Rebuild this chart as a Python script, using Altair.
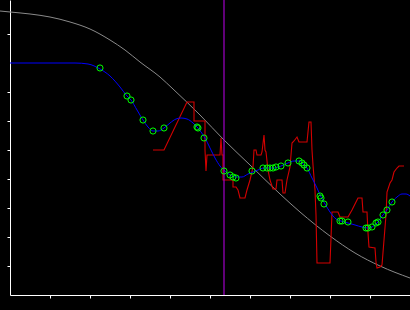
import altair as alt
import pandas as pd

# Grey reference curve
grey_x = [-0.25, 0.0, 0.5, 1.0, 1.5, 2.0, 2.5, 2.875, 3.25, 3.75, 4.075, 4.75, 5.35, 6.0, 6.75, 7.25, 8.0, 8.625, 9.25, 10.0]
grey_y = [9.793, 9.759, 9.690, 9.586, 9.414, 9.172, 8.793, 8.448, 8.034, 7.517, 7.103, 6.207, 5.345, 4.483, 3.483, 2.862, 2.034, 1.448, 1.0, 0.586]

# Blue smooth curve
blue_x = [0.0, 1.625, 1.95, 2.25, 2.5, 2.75, 2.925, 3.025, 3.175, 3.325, 3.45, 3.575, 3.7, 3.85, 4.0,
          4.15, 4.275, 4.425, 4.575, 4.675, 4.775, 4.875, 5.0, 5.125, 5.25, 5.375, 5.5, 5.65, 5.8, 5.95,
          6.075, 6.2, 6.35, 6.6, 6.775, 6.95, 7.1, 7.225, 7.3, 7.425, 7.55, 7.675, 7.775, 7.875, 8.0,
          8.15, 8.275, 8.45, 8.625, 8.8, 8.95, 9.05, 9.175, 9.325, 9.425, 9.55, 9.675, 9.8, 9.9, 10.0]
blue_y = [8.0, 8.0, 7.966, 7.793, 7.552, 7.172, 6.862, 6.724, 6.379, 6.034, 5.793, 5.655, 5.655, 5.759, 5.931,
          6.069, 6.103, 6.069, 5.931, 5.793, 5.621, 5.414, 5.069, 4.724, 4.448, 4.276, 4.138, 4.069, 4.069, 4.172,
          4.241, 4.310, 4.379, 4.379, 4.448, 4.552, 4.621, 4.621, 4.552, 4.379, 4.034, 3.690, 3.379, 3.138, 2.862,
          2.621, 2.552, 2.483, 2.414, 2.345, 2.310, 2.345, 2.483, 2.759, 2.931, 3.207, 3.379, 3.483, 3.483, 3.414]

# Red observed series
red_x = [3.575, 3.85, 4.425, 4.6, 4.6, 4.875, 4.875, 4.9, 4.925, 5.25, 5.275, 5.3, 5.325, 5.325, 5.575,
         5.575, 5.65, 5.7, 5.75, 5.875, 5.925, 6.0, 6.075, 6.1, 6.15, 6.175, 6.275, 6.3, 6.35, 6.375,
         6.4, 6.45, 6.5, 6.575, 6.65, 6.675, 6.8, 6.825, 6.875, 6.925, 7.0, 7.05, 7.1, 7.175, 7.225,
         7.425, 7.475, 7.525, 7.55, 7.575, 7.625, 7.65, 7.675, 8.0, 8.025, 8.05, 8.2, 8.25, 8.45, 8.55,
         8.7, 8.8, 8.825, 8.925, 8.95, 8.975, 9.125, 9.15, 9.175, 9.25, 9.3, 9.35, 9.4, 9.425, 9.5,
         9.55, 9.6, 9.675, 9.725, 9.85]
red_y = [5.0, 5.0, 6.655, 6.655, 6.0, 6.0, 5.0, 4.276, 4.828, 4.828, 5.414, 4.828, 4.828, 3.966, 3.966,
         3.724, 3.724, 3.621, 3.345, 3.345, 3.621, 3.966, 4.414, 5.0, 5.0, 4.828, 4.828, 4.931, 5.517, 5.0,
         4.931, 4.310, 3.966, 3.655, 3.655, 3.966, 3.966, 3.517, 3.517, 3.966, 4.414, 5.241, 5.310, 5.448, 5.276,
         5.276, 5.966, 5.966, 5.0, 4.483, 3.621, 2.759, 1.103, 1.103, 1.966, 2.862, 2.862, 2.690, 2.690, 2.931,
         3.345, 3.345, 2.862, 2.862, 2.138, 1.655, 1.621, 1.138, 0.931, 0.966, 1.034, 1.897, 2.759, 3.552, 3.862,
         3.966, 4.241, 4.379, 4.448, 4.448]

# Green sample points
pt_x = [2.25, 2.925, 3.025, 3.325, 3.575, 3.85, 4.675, 4.7, 4.85, 5.35, 5.5, 5.575, 5.65, 6.05, 6.325,
        6.425, 6.5, 6.575, 6.65, 6.775, 6.95, 7.225, 7.3, 7.35, 7.425, 7.75, 7.775, 7.85, 8.25, 8.3,
        8.45, 8.9, 8.95, 9.05, 9.15, 9.2, 9.325, 9.425, 9.55]
pt_y = [7.828, 6.862, 6.724, 6.034, 5.655, 5.759, 5.793, 5.759, 5.414, 4.276, 4.138, 4.069, 4.034, 4.276, 4.379,
        4.379, 4.379, 4.379, 4.414, 4.448, 4.552, 4.621, 4.552, 4.483, 4.379, 3.414, 3.345, 3.138, 2.552, 2.552,
        2.517, 2.310, 2.310, 2.345, 2.483, 2.517, 2.759, 2.931, 3.207]

# Vertical marker
marker_x = [5.35]

x_ticks = [1, 2, 3, 4, 5, 6, 7, 8, 9]
y_ticks = [1, 2, 3, 4, 5, 6, 7, 9]

xs = alt.Scale(domain=[0, 10], nice=False, zero=False)
ys = alt.Scale(domain=[0, 10.1724], nice=False, zero=False)

x_axis = alt.Axis(labels=False, title=None, grid=False, values=x_ticks, tickSize=3,
                  domainColor="white", tickColor="white", domainWidth=1, tickWidth=1)
y_axis = alt.Axis(labels=False, title=None, grid=False, values=y_ticks, tickSize=3,
                  domainColor="white", tickColor="white", domainWidth=1, tickWidth=1)

grey_df = pd.DataFrame({"x": grey_x, "y": grey_y})
blue_df = pd.DataFrame({"x": blue_x, "y": blue_y, "o": list(range(len(blue_x)))})
red_df = pd.DataFrame({"x": red_x, "y": red_y, "o": list(range(len(red_x)))})
pt_df = pd.DataFrame({"x": pt_x, "y": pt_y})
mk_df = pd.DataFrame({"x": marker_x})

grey = alt.Chart(grey_df).mark_line(color="#8a8a8a", strokeWidth=1, interpolate="monotone").encode(
    x=alt.X("x:Q", scale=xs, axis=x_axis),
    y=alt.Y("y:Q", scale=ys, axis=y_axis),
)
red = alt.Chart(red_df).mark_line(color="#d40000", strokeWidth=1.1).encode(
    x=alt.X("x:Q", scale=xs), y=alt.Y("y:Q", scale=ys), order="o:Q"
)
blue = alt.Chart(blue_df).mark_line(color="#0000ff", strokeWidth=1, interpolate="monotone").encode(
    x=alt.X("x:Q", scale=xs), y=alt.Y("y:Q", scale=ys), order="o:Q"
)
marker = alt.Chart(mk_df).mark_rule(color="#a000c8", strokeWidth=1.2).encode(
    x=alt.X("x:Q", scale=xs)
)
pts = alt.Chart(pt_df).mark_point(shape="circle", filled=False, color="#00ff00", size=38,
                                  strokeWidth=1, opacity=1).encode(
    x=alt.X("x:Q", scale=xs), y=alt.Y("y:Q", scale=ys)
)

chart = alt.layer(grey, red, blue, marker, pts).properties(
    width=400, height=295,
    autosize=alt.AutoSizeParams(type="none"),
    padding={"left": 10, "top": 0, "right": 0, "bottom": 15},
    background="black",
).configure_view(stroke=None)

chart.save("out.html", embed_options={"renderer": "svg", "actions": False})
